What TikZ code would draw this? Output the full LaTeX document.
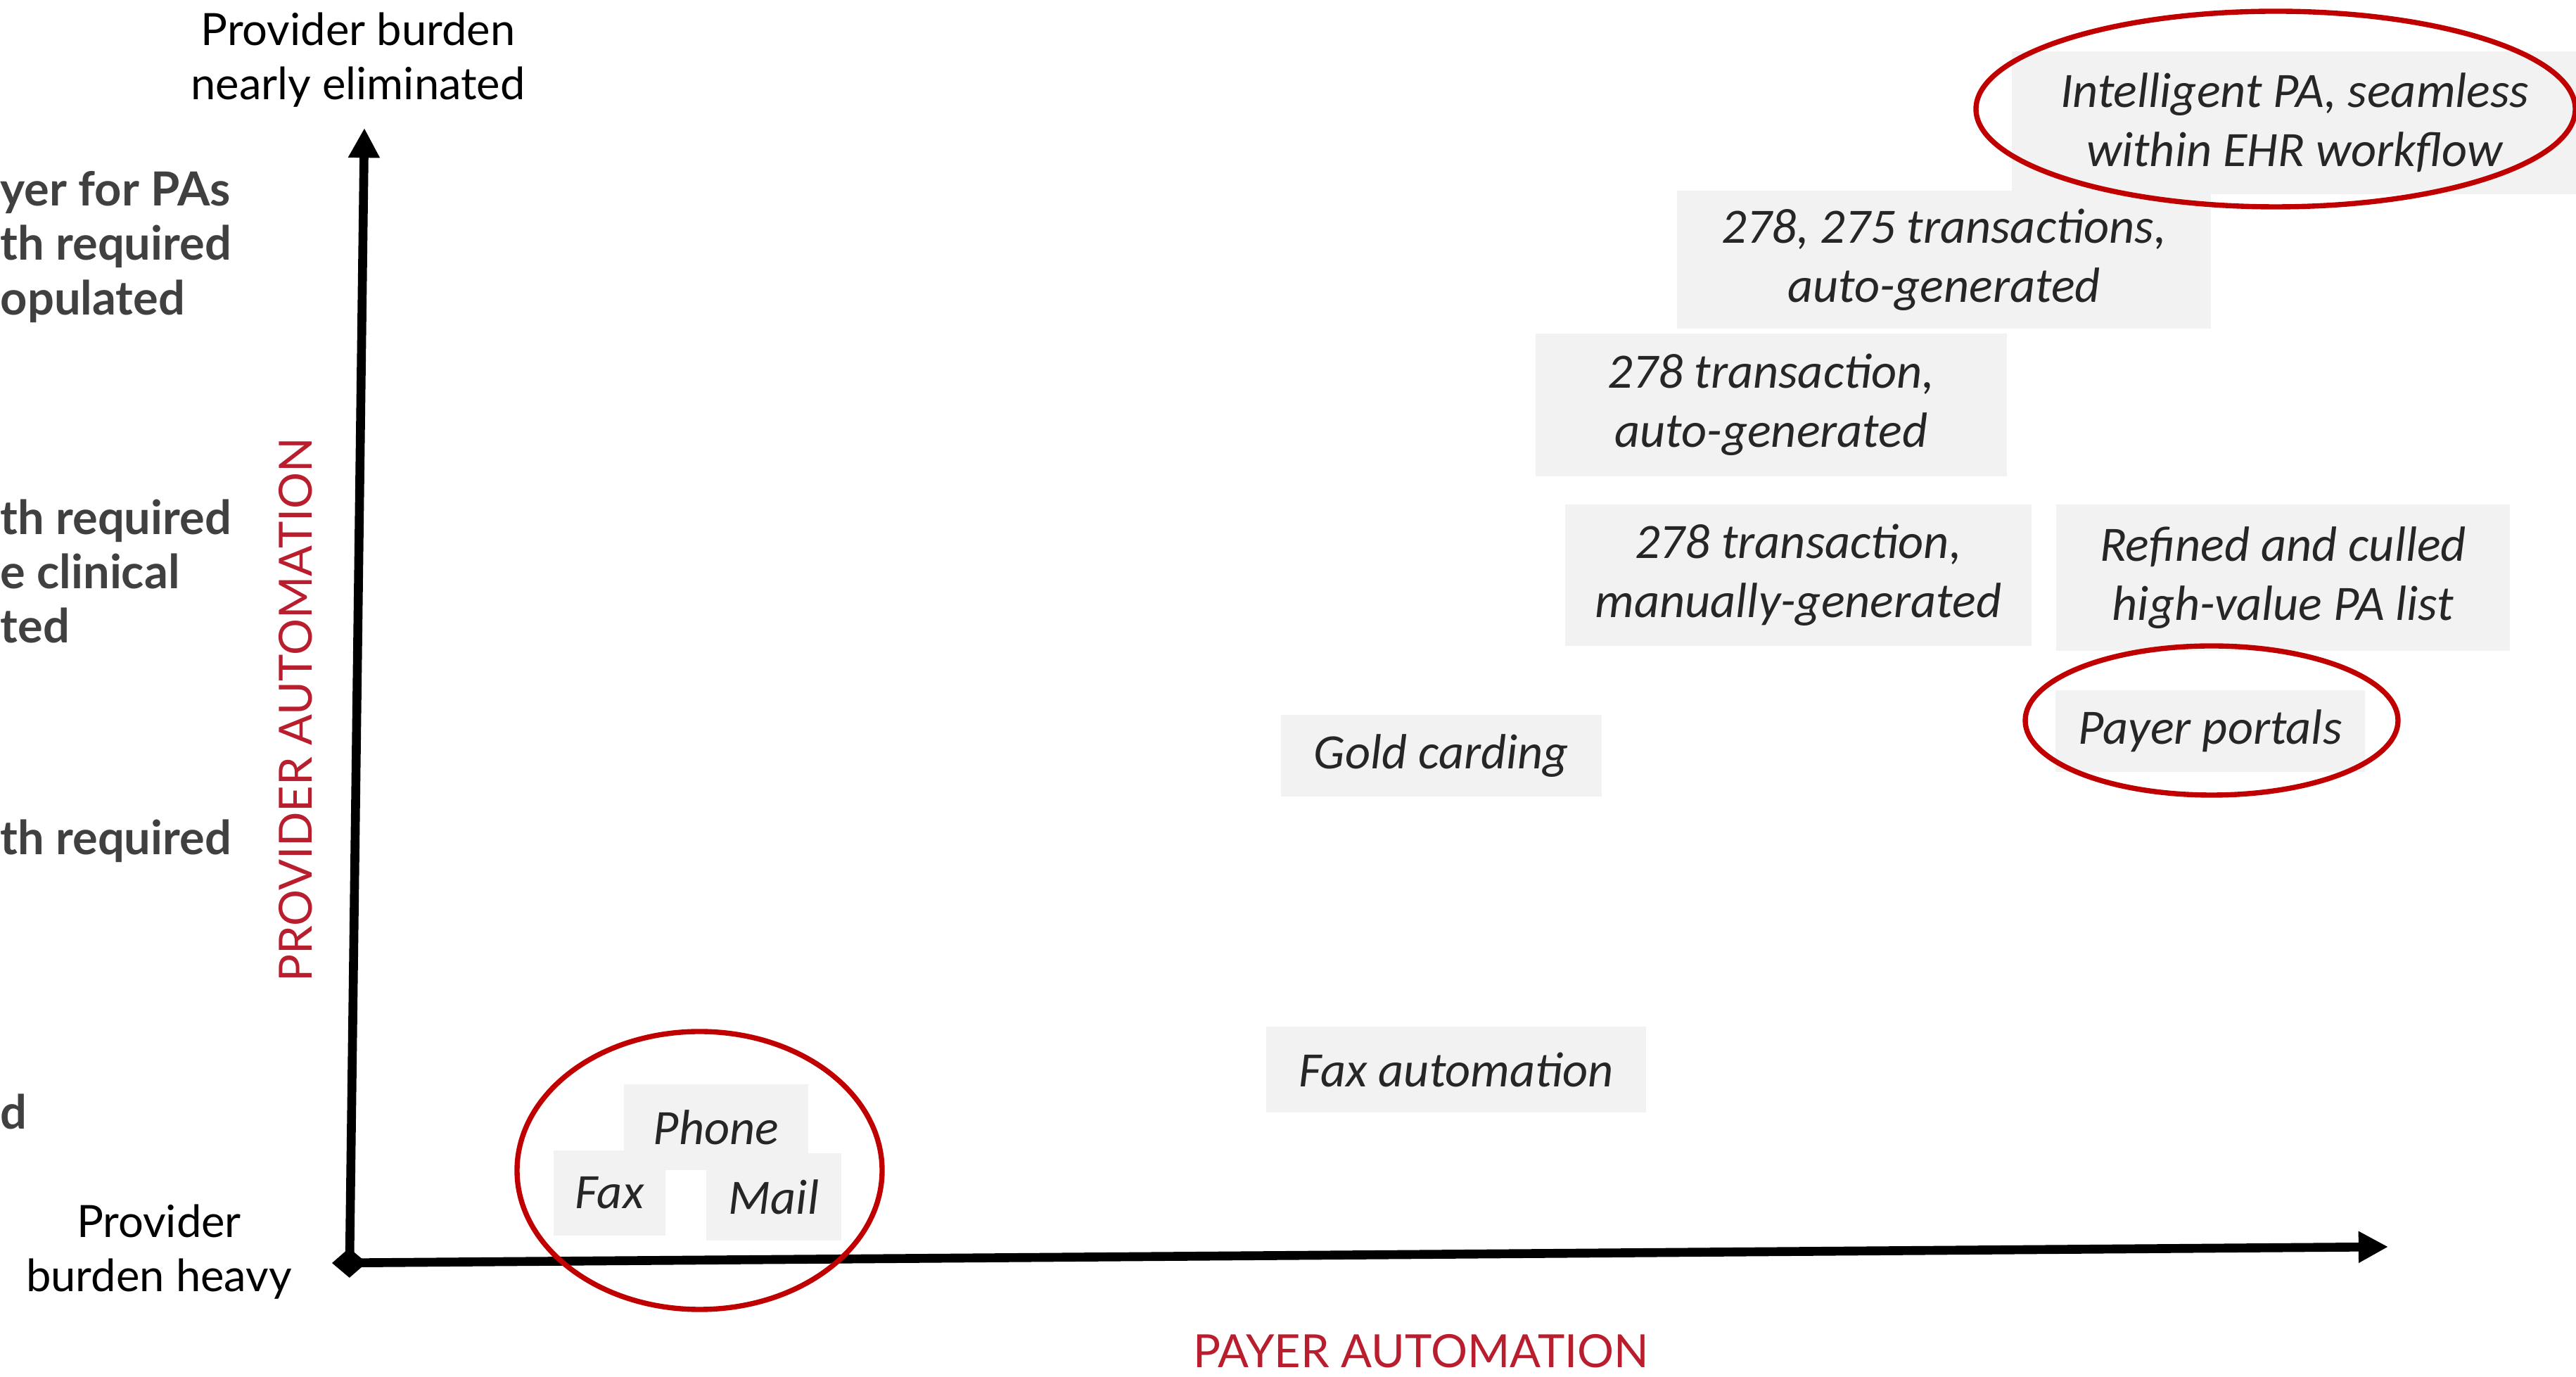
\documentclass[tikz,border=0pt]{standalone}
\usepackage{fontspec}
\usepackage{tikz}
\usetikzlibrary{arrows.meta}
\newfontfamily\latofont{Lato}
\newfontfamily\cardfont{Carlito}
\definecolor{ringred}{RGB}{192, 0, 0}
\definecolor{axisred}{RGB}{184, 30, 45}
\definecolor{cardgray}{RGB}{242, 242, 242}
\definecolor{cardtext}{RGB}{38, 38, 38}
\definecolor{cutgray}{RGB}{64, 64, 64}

\begin{document}
\begin{tikzpicture}[
    card/.style={fill=cardgray, text=cardtext, align=center, inner sep=0pt,
                 font=\cardfont\itshape\fontsize{20}{24}\selectfont},
    ring/.style={draw=ringred, line width=2.1pt},
    axis/.style={line width=3.6pt, black},
    ends/.style={font=\latofont\fontsize{18}{22}\selectfont, align=center},
    axlabel/.style={font=\latofont\fontsize{18.5}{22}\selectfont, text=axisred, inner sep=0pt},
    cut/.style={font=\latofont\bfseries\fontsize{19}{22}\selectfont, text=cutgray,
                align=left, anchor=west, inner sep=0pt}
  ]
  \useasboundingbox (0,0) rectangle (36.62,19.57);

  \node[cut] (cutA) at (0.00,16.06) {yer for PAs\\th required\\opulated};
  \node[cut] (cutB) at (0.00,11.45) {th required\\e clinical\\ted};
  \node[cut] (cutC) at (0.00, 7.62) {th required};
  \node[cut] (cutD) at (0.00, 3.77) {d};

  \node[ends] (top)    at ( 5.09,18.72) {Provider burden\\nearly eliminated};
  \node[ends] (bottom) at ( 2.26, 1.78) {Provider\\burden heavy};
  \node[axlabel, rotate=90] (provaxis) at ( 4.20, 9.48) {PROVIDER AUTOMATION};
  \node[axlabel]            (payaxis)  at (20.20, 0.37) {PAYER AUTOMATION};

  \node[card, minimum width=2.62cm, minimum height=1.22cm] (phone)       at (10.180, 3.550) {Phone};
  \node[card, minimum width=1.59cm, minimum height=1.21cm] (fax)         at ( 8.665, 2.615) {Fax};
  \node[card, minimum width=1.92cm, minimum height=1.24cm] (mail)        at (11.000, 2.560) {Mail};
  \node[card, minimum width=5.40cm, minimum height=1.22cm] (faxauto)     at (20.700, 4.370) {Fax automation};
  \node[card, minimum width=4.56cm, minimum height=1.16cm] (gold)        at (20.490, 8.830) {Gold carding};
  \node[card, minimum width=6.63cm, minimum height=2.01cm] (manual)      at (25.565,11.395) {278 transaction,\\manually-generated};
  \node[card, minimum width=6.70cm, minimum height=2.03cm] (auto)        at (25.180,13.815) {278 transaction,\\auto-generated};
  \node[card, minimum width=7.59cm, minimum height=1.96cm] (both)        at (27.635,15.880) {278, 275 transactions,\\auto-generated};
  \node[card, minimum width=6.45cm, minimum height=2.08cm] (refined)     at (32.455,11.360) {Refined and culled\\high-value PA list};
  \node[card, minimum width=4.40cm, minimum height=1.16cm] (portals)     at (31.420, 9.180) {Payer portals};
  \node[card, minimum width=8.04cm, minimum height=2.03cm] (intelligent) at (32.620,17.825) {Intelligent PA, seamless\\within EHR workflow};

  \coordinate (origin) at ( 4.97, 1.62);
  \coordinate (xtail)  at ( 4.72, 1.62);
  \coordinate (ytip)   at ( 5.18,17.75);
  \coordinate (xtip)   at (33.95, 1.85);
  \draw[axis, -{Triangle[length=12pt, width=12pt]}] (origin) -- (ytip);
  \draw[axis, {Diamond[length=14pt, width=12pt]}-{Triangle[length=12pt, width=12pt]}] (xtail) -- (xtip);

  \draw[ring] ( 9.945, 2.935) ellipse (2.595 and 1.975);
  \draw[ring] (31.440, 9.330) ellipse (2.650 and 1.060);
  \draw[ring] (32.350,18.020) ellipse (4.260 and 1.390);
\end{tikzpicture}
\end{document}
